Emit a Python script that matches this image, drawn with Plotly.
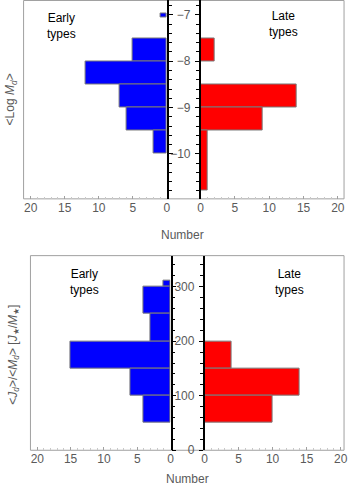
import plotly.graph_objects as go

# ---------------- data ----------------
# Top panel: <Log M_d>, bins (lower, upper) and counts
md_early_lo = [-7.05, -8.0, -8.5, -9.0, -9.5, -10.0]
md_early_hi = [-6.96, -7.5, -8.0, -8.5, -9.0, -9.5]
md_early_n = [1, 5, 12, 7, 6, 2]

md_late_lo = [-8.0, -9.0, -9.5, -10.8]
md_late_hi = [-7.5, -8.5, -9.0, -9.5]
md_late_n = [2, 14, 9, 1]

md_ticks = [-7, -8, -9, -10]

# Bottom panel: <J_d>/<M_d>, bins and counts
jd_early_lo = [300, 250, 200, 150, 100, 50]
jd_early_hi = [311, 300, 250, 200, 150, 100]
jd_early_n = [1, 4, 3, 15, 6, 4]

jd_late_lo = [150, 100, 50]
jd_late_hi = [200, 150, 100]
jd_late_n = [4, 14, 10]

jd_ticks = [0, 100, 200, 300]
count_ticks = [0, 5, 10, 15, 20]

# ---------------- layout constants ----------------
W, H = 350, 496
FONT = "Liberation Sans, Arial, sans-serif"
GRAY = "#5a5a5a"
FRAME = "#a0a0a0"


def px(x):
    return x / W


def py(y):
    return 1 - y / H


def centers(lo, hi):
    return [(a + b) / 2 for a, b in zip(lo, hi)]


def widths(lo, hi):
    return [b - a for a, b in zip(lo, hi)]


fig = go.Figure()

bar_line = dict(color="#7a7a7a", width=1)

# top panel
fig.add_trace(go.Bar(y=centers(md_early_lo, md_early_hi), x=md_early_n,
                     width=widths(md_early_lo, md_early_hi), orientation="h",
                     marker=dict(color="#0000ff", line=bar_line),
                     xaxis="x", yaxis="y", showlegend=False))
fig.add_trace(go.Bar(y=centers(md_late_lo, md_late_hi), x=md_late_n,
                     width=widths(md_late_lo, md_late_hi), orientation="h",
                     marker=dict(color="#ff0000", line=bar_line),
                     xaxis="x2", yaxis="y2", showlegend=False))
# bottom panel
fig.add_trace(go.Bar(y=centers(jd_early_lo, jd_early_hi), x=jd_early_n,
                     width=widths(jd_early_lo, jd_early_hi), orientation="h",
                     marker=dict(color="#0000ff", line=bar_line),
                     xaxis="x3", yaxis="y3", showlegend=False))
fig.add_trace(go.Bar(y=centers(jd_late_lo, jd_late_hi), x=jd_late_n,
                     width=widths(jd_late_lo, jd_late_hi), orientation="h",
                     marker=dict(color="#ff0000", line=bar_line),
                     xaxis="x4", yaxis="y4", showlegend=False))

# panel pixel geometry
top = dict(y0=0.5, y1=201.7, lx0=21, lx1=167.3, rx0=201.7, rx1=348)
bot = dict(y0=259.3, y1=456.7, lx0=28, lx1=171, rx0=205.7, rx1=348)

tickfont = dict(family=FONT, size=12, color=GRAY)


def xaxis(dom, rng, anchor):
    return dict(domain=dom, range=rng, anchor=anchor,
                tickmode="array", tickvals=count_ticks,
                ticks="inside", ticklen=3, tickcolor=FRAME, tickwidth=1,
                minor=dict(dtick=1, ticks="inside", ticklen=2, tickcolor="#c8c8c8"),
                showline=False, showgrid=False, zeroline=False,
                tickfont=tickfont, fixedrange=True)


def yaxis(dom, rng, anchor, side, labels, tv, mdt):
    return dict(domain=dom, range=rng, anchor=anchor, side=side,
                tickmode="array", tickvals=tv,
                ticks="outside", ticklen=4, tickcolor="black", tickwidth=1,
                minor=dict(dtick=mdt, ticks="outside", ticklen=3, tickcolor="black"),
                showline=True, linecolor="black", linewidth=1.5,
                showgrid=False, zeroline=False, showticklabels=labels,
                tickfont=tickfont, ticklabelstandoff=2, fixedrange=True)


md_range = [-10.97, -6.69]
jd_range = [0, 357]

fig.update_layout(
    width=W, height=H,
    margin=dict(l=0, r=0, t=0, b=0),
    paper_bgcolor="white", plot_bgcolor="rgba(0,0,0,0)",
    bargap=0,
    xaxis=xaxis([px(top["lx0"]), px(top["lx1"])], [21.05, 0], "y"),
    xaxis2=xaxis([px(top["rx0"]), px(top["rx1"])], [0, 20.9], "y2"),
    xaxis3=xaxis([px(bot["lx0"]), px(bot["lx1"])], [21.03, 0], "y3"),
    xaxis4=xaxis([px(bot["rx0"]), px(bot["rx1"])], [0, 20.5], "y4"),
    yaxis=yaxis([py(top["y1"]), py(top["y0"])], md_range, "x", "right", False, md_ticks, 0.2),
    yaxis2=yaxis([py(top["y1"]), py(top["y0"])], md_range, "x2", "left", True, md_ticks, 0.2),
    yaxis3=yaxis([py(bot["y1"]), py(bot["y0"])], jd_range, "x3", "right", False, jd_ticks, 20),
    yaxis4=yaxis([py(bot["y1"]), py(bot["y0"])], jd_range, "x4", "left", True, jd_ticks, 20),
)

shapes = []
for p in (top, bot):
    shapes.append(dict(type="rect", xref="paper", yref="paper",
                       x0=px(p["lx0"]), x1=px(p["rx1"]),
                       y0=py(p["y1"]), y1=py(p["y0"]),
                       line=dict(color=FRAME, width=1), layer="below"))
fig.update_layout(shapes=shapes)

ann = []


def text(x, y, s, size=12, color="black", angle=0, xanchor="center"):
    ann.append(dict(x=px(x), y=py(y), xref="paper", yref="paper", text=s,
                    showarrow=False, textangle=angle, xanchor=xanchor, yanchor="middle",
                    font=dict(family=FONT, size=size, color=color)))


text(43, 26, "Early<br>types", xanchor="left")
text(269, 24, "Late<br>types", xanchor="left")
text(66, 286, "Early<br>types", xanchor="left")
text(275, 286, "Late<br>types", xanchor="left")
text(183, 238, "Number", size=12, color=GRAY)
text(188, 486, "Number", size=12, color=GRAY)
text(8, 101, "&lt;Log <i>M</i><sub><i>d</i></sub>&gt;", size=12, color=GRAY, angle=-90)
text(11, 360, "&lt;<i>J</i><sub><i>d</i></sub>&gt;/&lt;<i>M</i><sub><i>d</i></sub>&gt; "
              "[<i>J</i><sub>★</sub>/<i>M</i><sub>★</sub>]", size=12, color=GRAY, angle=-90)
fig.update_layout(annotations=ann)

fig.write_html("out.html",
               config={"displayModeBar": False},
               post_script="document.body.style.margin='0';"
                           "document.body.style.overflow='hidden';")
